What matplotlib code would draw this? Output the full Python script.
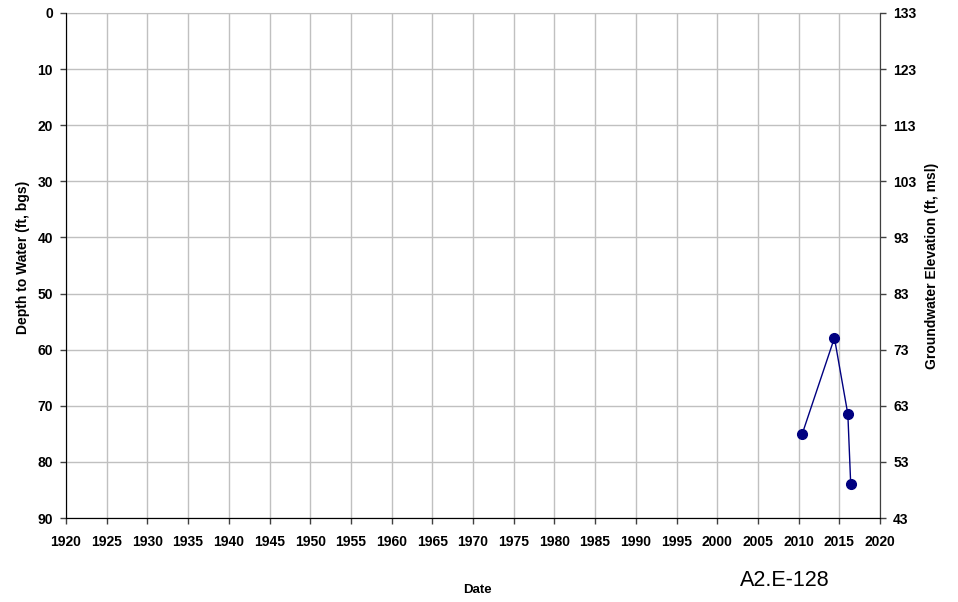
import matplotlib
matplotlib.use("Agg")
import matplotlib.pyplot as plt

plt.rcParams['font.family'] = ['Liberation Sans', 'DejaVu Sans']

years = [2010.45, 2014.4, 2016.05, 2016.4]
depth = [75.0, 57.9, 71.5, 83.9]
x_ticks = list(range(1920, 2021, 5))
y_ticks = list(range(0, 91, 10))
elev_offset = 133

fig = plt.figure(figsize=(9.58, 6.02), dpi=100)
ax = fig.add_axes([66/958, 1-518/602, (880-66)/958, (518-13)/602])
ax.plot(years, depth, color='#000080', lw=1, marker='o', ms=7, mfc='#000080', mec='#000080', zorder=3)
ax.set_xlim(1920, 2020)
ax.set_ylim(90, 0)
ax.set_xticks(x_ticks)
ax.set_yticks(y_ticks)
ax.grid(True, color='#c0c0c0', lw=1)
ax.set_axisbelow(True)
ax.spines['top'].set_color('#c0c0c0')
ax.spines['left'].set_color('#404040')
ax.spines['bottom'].set_color('#202020')
ax.spines['right'].set_color('#404040')
ax.tick_params(axis='x', direction='out', length=4.5, width=1, color='#404040', labelsize=10, pad=7.5)
ax.tick_params(axis='y', direction='out', length=4.5, width=1, color='#404040', labelsize=10, pad=5)
for lab in ax.get_xticklabels() + ax.get_yticklabels():
    lab.set_fontweight('bold')

ax2 = ax.twinx()
ax2.set_ylim(elev_offset - 90, elev_offset)
ax2.set_yticks([elev_offset - v for v in y_ticks])
ax2.tick_params(axis='y', direction='out', length=4.5, width=1, color='#404040', labelsize=10, pad=5)
for lab in ax2.get_yticklabels():
    lab.set_fontweight('bold')
ax2.spines['right'].set_color('#404040')
ax2.spines['top'].set_visible(False)

fig.text(23/958, 1-257/602, 'Depth to Water (ft, bgs)', fontsize=10, fontweight='bold',
         rotation=90, ha='center', va='center')
fig.text(932/958, 1-266/602, 'Groundwater Elevation (ft, msl)', fontsize=10, fontweight='bold',
         rotation=90, ha='center', va='center')
fig.text(477/958, 1-590/602, 'Date', fontsize=9.5, fontweight='bold', ha='center', va='center')
fig.text(785/958, 1-580/602, 'A2.E-128', fontsize=15.5, ha='center', va='center')

fig.savefig('out.png', dpi=100)
